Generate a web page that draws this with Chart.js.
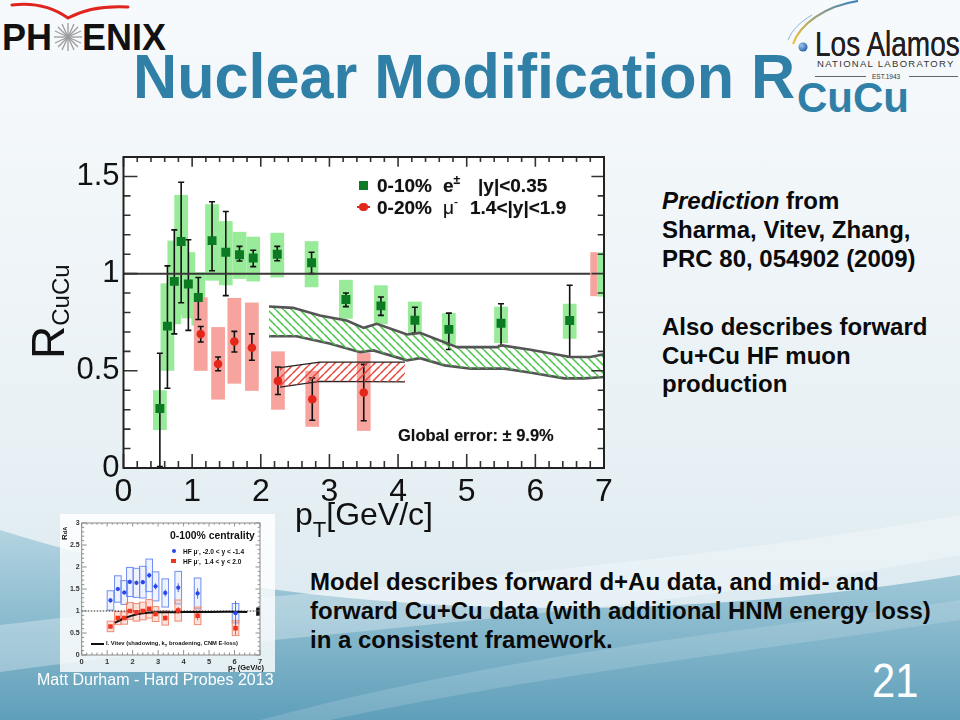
<!DOCTYPE html>
<html>
<head>
<meta charset="utf-8">
<script src="https://cdn.jsdelivr.net/npm/chart.js@4.4.1/dist/chart.umd.min.js"></script>
<style>
  html, body { margin: 0; padding: 0; }
  body { width: 960px; height: 720px; position: relative; overflow: hidden;
         font-family: "Liberation Sans", Arial, Helvetica, sans-serif; }
  .abs { position: absolute; white-space: nowrap; line-height: 1; }
  #bg { position: absolute; left: 0; top: 0; }
  #main { position: absolute; left: 60px; top: 150px; }
  #inset { position: absolute; left: 60px; top: 514px; background: rgba(255,255,255,0.8); }
  .title { color: #2f7fa6; font-weight: bold; }
  .txt { font-weight: bold; font-size: 24px; color: #0a0a0a; line-height: 28.7px; }
  .leg { font-weight: bold; font-size: 19px; color: #111; text-shadow: 0 0 1px #999; }
  .ins { font-weight: bold; color: #111; }
</style>
</head>
<body>
<svg id="bg" width="960" height="720" viewBox="0 0 960 720">
  <defs>
    <linearGradient id="sky" x1="0" y1="0" x2="0" y2="1">
      <stop offset="0" stop-color="#f7fafc"/>
      <stop offset="0.6" stop-color="#e9f1f5"/>
      <stop offset="1" stop-color="#d5e6ee"/>
    </linearGradient>
    <linearGradient id="sea" x1="0" y1="0" x2="0" y2="1">
      <stop offset="0" stop-color="#b3d4e1"/>
      <stop offset="1" stop-color="#5f9fba"/>
    </linearGradient>
    <linearGradient id="gold" x1="0" y1="1" x2="1" y2="0">
      <stop offset="0" stop-color="#f2c230"/>
      <stop offset="1" stop-color="#3d7fc0"/>
    </linearGradient>
    <radialGradient id="ball" cx="0.35" cy="0.35" r="0.7">
      <stop offset="0" stop-color="#9fc4ee"/>
      <stop offset="1" stop-color="#1f5fa8"/>
    </radialGradient>
  </defs>
  <rect width="960" height="720" fill="url(#sky)"/>
  <path d="M0,530 C220,600 560,640 960,575 L960,720 L0,720 Z" fill="url(#sea)"/>
  <path d="M0,625 C280,590 620,575 960,515 L960,555 C640,615 300,630 0,672 Z" fill="#ffffff" opacity="0.3"/>
  <path d="M260,720 C520,650 760,630 960,600 L960,620 C760,650 540,675 330,720 Z" fill="#ffffff" opacity="0.15"/>
  <!-- PHENIX swoosh and star -->
  <path d="M12,5 Q44,1 68,18 Q92,5 128,7" fill="none" stroke="#e0241f" stroke-width="3" stroke-linecap="round"/>
  <g stroke="#9a9a9a" stroke-width="1.3">
    <line x1="54" y1="37" x2="82" y2="37"/><line x1="68" y1="23" x2="68" y2="51"/>
    <line x1="58" y1="27" x2="78" y2="47"/><line x1="58" y1="47" x2="78" y2="27"/>
    <line x1="55" y1="31" x2="81" y2="43"/><line x1="55" y1="43" x2="81" y2="31"/>
    <line x1="62" y1="24" x2="74" y2="50"/><line x1="62" y1="50" x2="74" y2="24"/>
  </g>
  <!-- Los Alamos orbit -->
  <path d="M793,44 C800,24 825,6 858,1" fill="none" stroke="url(#gold)" stroke-width="2.2"/>
  <path d="M788,40 C792,30 800,22 812,15" fill="none" stroke="#8fb4d8" stroke-width="1"/>
  <circle cx="803" cy="47" r="4.5" fill="url(#ball)"/>
  <line x1="815" y1="76.5" x2="866" y2="76.5" stroke="#666" stroke-width="1"/>
  <line x1="909" y1="76.5" x2="958" y2="76.5" stroke="#666" stroke-width="1"/>
</svg>

<!-- logos -->
<div class="abs" style="left:2px;top:19.5px;font-size:36px;font-weight:bold;color:#111;">PH</div>
<div class="abs" style="left:82px;top:19.5px;font-size:36px;font-weight:bold;color:#111;">ENIX</div>
<div class="abs" style="left:815px;top:25.5px;font-size:35px;color:#231f20;transform:scaleX(0.8);transform-origin:left top;text-shadow:0 0 0.6px #231f20;">Los Alamos</div>
<div class="abs" style="left:817px;top:59px;font-size:9.5px;letter-spacing:1.3px;color:#333;">NATIONAL LABORATORY</div>
<div class="abs" style="left:872px;top:73.5px;font-size:6.5px;color:#333;">EST.1943</div>

<!-- title -->
<div class="abs title" style="left:133px;top:45px;font-size:63px;transform:scaleX(0.97);transform-origin:left top;">Nuclear Modification R</div>
<div class="abs title" style="left:797px;top:76.5px;font-size:42px;">CuCu</div>

<canvas id="main" width="560" height="360"></canvas>
<canvas id="inset" width="215" height="158"></canvas>

<!-- main chart axis titles -->
<div class="abs" style="left:25px;top:359px;transform:rotate(-90deg);transform-origin:left top;font-size:46px;color:#111;">R<span style="font-size:24px;position:relative;top:5px;">CuCu</span></div>
<div class="abs" style="left:295px;top:498px;font-size:32px;color:#111;">p<span style="font-size:22px;position:relative;top:12px;">T</span>[GeV/c]</div>

<!-- main chart legend -->
<div class="abs" style="left:359px;top:180.5px;width:9px;height:9px;background:#0b7a22;"></div>
<div class="abs leg" style="left:377px;top:176px;">0-10%</div>
<div class="abs leg" style="left:443px;top:176px;">e<span style="font-size:12px;position:relative;top:-8px;">±</span></div>
<div class="abs leg" style="left:478px;top:176px;">|y|&lt;0.35</div>
<div class="abs" style="left:357px;top:206px;width:13px;height:1.5px;background:#e3261b;"></div>
<div class="abs" style="left:359px;top:202.5px;width:8.5px;height:8.5px;border-radius:50%;background:#e3261b;"></div>
<div class="abs leg" style="left:377px;top:198px;">0-20%</div>
<div class="abs leg" style="left:443px;top:198px;font-weight:normal;">μ<span style="font-size:12px;position:relative;top:-8px;">-</span></div>
<div class="abs leg" style="left:470px;top:198px;">1.4&lt;|y|&lt;1.9</div>
<div class="abs leg" style="left:398px;top:427px;font-size:16.5px;">Global error: ± 9.9%</div>

<!-- inset texts -->
<div class="abs ins" style="left:170px;top:531px;font-size:10.4px;">0-100% centrality</div>
<div class="abs" style="left:171.5px;top:549px;width:4px;height:4px;border-radius:50%;background:#2a45e8;"></div>
<div class="abs ins" style="left:183px;top:547.5px;font-size:6.6px;">HF μ<sup style="font-size:4px;">-</sup>, -2.0 &lt; y &lt; -1.4</div>
<div class="abs" style="left:171px;top:558.5px;width:4.5px;height:4.5px;background:#f0321e;"></div>
<div class="abs ins" style="left:183px;top:557.5px;font-size:6.6px;">HF μ<sup style="font-size:4px;">-</sup>, &nbsp;1.4 &lt; y &lt; 2.0</div>
<div class="abs" style="left:91px;top:643px;width:13px;height:1.6px;background:#111;"></div>
<div class="abs ins" style="left:106px;top:640.5px;font-size:5.8px;">I. Vitev (shadowing, k<sub style="font-size:4px;">T</sub> broadening, CNM E-loss)</div>
<div class="abs ins" style="left:61px;top:540px;font-size:8px;transform:rotate(-90deg);transform-origin:left top;">R<span style="font-size:5.5px;">dA</span></div>
<div class="abs ins" style="left:228px;top:664px;font-size:7.5px;">p<span style="font-size:5px;position:relative;top:2px;">T</span> (GeV/c)</div>

<!-- right and bottom text -->
<div class="abs txt" style="left:662px;top:187.3px;"><i>Prediction</i> from<br>Sharma, Vitev, Zhang,<br>PRC 80, 054902 (2009)</div>
<div class="abs txt" style="left:662px;top:313px;">Also describes forward<br>Cu+Cu HF muon<br>production</div>
<div class="abs txt" style="left:310px;top:567.2px;line-height:29px;">Model describes forward d+Au data, and mid- and<br>forward Cu+Cu data (with additional HNM energy loss)<br>in a consistent framework.</div>
<div class="abs" style="left:37px;top:671.5px;font-size:16px;color:#fff;">Matt Durham - Hard Probes 2013</div>
<div class="abs" style="left:872px;top:655.5px;font-size:49px;color:#fff;transform:scaleX(0.85);transform-origin:left top;">21</div>

<script>
// ---- main plot: heavy-flavour R_CuCu (PHENIX) ----
// 0-10% central, e+- at |y|<0.35
const greenPt     = [0.53, 0.64, 0.74, 0.84, 0.945, 1.09, 1.29, 1.49, 1.69, 1.89, 2.24, 2.74, 3.24, 3.75, 4.245, 4.74, 5.5, 6.5];
const greenR      = [0.306, 0.73, 0.96, 1.165, 0.947, 0.877, 1.17, 1.11, 1.097, 1.08, 1.10, 1.056, 0.867, 0.834, 0.76, 0.713, 0.745, 0.759];
const greenStatLo = [0.007, 0.41, 0.69, 0.85, 0.708, 0.764, 1.015, 0.887, 1.065, 1.036, 1.066, 1.0, 0.83, 0.785, 0.694, 0.61, 0.63, 0.57];
const greenStatHi = [0.59, 1.04, 1.225, 1.47, 1.174, 0.98, 1.37, 1.32, 1.14, 1.12, 1.14, 1.11, 0.90, 0.88, 0.827, 0.797, 0.845, 0.94];
const greenSysLo  = [0.195, 0.50, 0.74, 0.785, 0.77, 0.733, 0.964, 0.94, 0.973, 0.96, 0.98, 0.93, 0.768, 0.74, 0.69, 0.634, 0.643, 0.665];
const greenSysHi  = [0.40, 0.95, 1.17, 1.405, 1.11, 1.007, 1.357, 1.27, 1.215, 1.19, 1.21, 1.167, 0.968, 0.94, 0.856, 0.797, 0.83, 0.845];

// 0-20% central, mu- at 1.4<|y|<1.9
const redPt     = [1.125, 1.378, 1.615, 1.87, 2.25, 2.75, 3.50];
const redR      = [0.689, 0.535, 0.651, 0.619, 0.448, 0.354, 0.388];
const redStatLo = [0.648, 0.50, 0.597, 0.554, 0.378, 0.246, 0.243];
const redStatHi = [0.728, 0.571, 0.703, 0.69, 0.52, 0.463, 0.533];
const redSysLo  = [0.50, 0.352, 0.434, 0.397, 0.30, 0.212, 0.191];
const redSysHi  = [0.878, 0.725, 0.875, 0.851, 0.60, 0.50, 0.591];

// global normalisation boxes at pT = 7 (red, green)
const globalPt = [6.85, 6.95];
const globalLo = [0.884, 0.882];
const globalHi = [1.11, 1.11];

// Sharma-Vitev-Zhang prediction bands
const bandMidUpX = [2.12, 2.47, 2.86, 3.25, 3.50, 3.69, 4.13, 4.32, 4.86, 5.44, 5.51, 5.93, 6.51, 6.80, 7.0];
const bandMidUpY = [0.831, 0.824, 0.785, 0.759, 0.721, 0.742, 0.687, 0.695, 0.622, 0.622, 0.631, 0.608, 0.571, 0.571, 0.585];
const bandMidLoX = [2.12, 2.52, 3.0, 3.45, 3.64, 4.13, 4.32, 4.68, 5.06, 5.55, 5.94, 6.42, 6.71, 7.0];
const bandMidLoY = [0.678, 0.678, 0.640, 0.596, 0.605, 0.554, 0.565, 0.528, 0.511, 0.511, 0.490, 0.461, 0.461, 0.468];
const bandFwdUpX = [2.28, 2.86, 4.10];
const bandFwdUpY = [0.516, 0.545, 0.545];
const bandFwdLoX = [2.28, 2.86, 4.10];
const bandFwdLoY = [0.416, 0.446, 0.443];

const unityX = [0, 6.8];
const unityY = [1, 1];

const mainXTicks = [0, 1, 2, 3, 4, 5, 6, 7];
const mainYTicks = ['0', '0.5', '1', '1.5'];

// ---- inset: d+Au HF muon R_dA ----
const insetPt      = [1.13, 1.42, 1.67, 1.89, 2.15, 2.40, 2.65, 2.90, 3.28, 3.79, 4.55, 6.04];
const insetBwdR    = [1.24, 1.50, 1.42, 1.66, 1.64, 1.655, 1.81, 1.56, 1.41, 1.53, 1.40, 0.95];
const insetBwdSys  = [0.22, 0.30, 0.27, 0.33, 0.33, 0.36, 0.37, 0.33, 0.32, 0.37, 0.35, 0.22];
const insetBwdStat = [0.05, 0.05, 0.05, 0.05, 0.05, 0.05, 0.06, 0.07, 0.08, 0.10, 0.12, 0.28];
const insetFwdR    = [0.65, 0.84, 0.84, 1.0, 0.97, 1.0, 1.05, 0.93, 0.84, 1.01, 0.89, 0.61];
const insetFwdSys  = [0.12, 0.15, 0.14, 0.19, 0.20, 0.20, 0.21, 0.17, 0.16, 0.24, 0.20, 0.17];
const insetFwdStat = [0.03, 0.03, 0.03, 0.03, 0.03, 0.04, 0.04, 0.05, 0.06, 0.08, 0.10, 0.15];
const vitevPt = [1.3, 1.5, 1.7, 1.9, 2.2, 2.5, 3.0, 4.0, 5.0, 6.5];
const vitevR  = [0.73, 0.79, 0.84, 0.88, 0.93, 0.955, 0.97, 0.975, 0.98, 0.98];
const insetGlobalPt = [6.93];
const insetGlobalLo = [0.89];
const insetGlobalHi = [1.08];
const insetXTicks = [0, 1, 2, 3, 4, 5, 6, 7];
const insetYTicks = ['0', '0.5', '1', '1.5', '2', '2.5', '3'];

const FONT = '"Liberation Sans", Arial, Helvetica, sans-serif';
Chart.defaults.font.family = FONT;

const pts = (xs, ys) => xs.map((x, i) => ({ x, y: ys[i] }));

function hatch(ctx, color, dir) {
  const s = 8;
  const c = document.createElement('canvas');
  c.width = s; c.height = s;
  const g = c.getContext('2d');
  g.strokeStyle = color;
  g.lineWidth = 1.5;
  g.beginPath();
  for (let k = -1; k <= 1; k++) {
    if (dir > 0) { g.moveTo(k * s, s); g.lineTo(k * s + s, 0); }
    else { g.moveTo(k * s, 0); g.lineTo(k * s + s, s); }
  }
  g.stroke();
  return ctx.createPattern(c, 'repeat');
}

// ROOT-like frame: sys boxes, stat bars, inside ticks on all four sides
function rootStyle(o) {
  return {
    id: 'rootStyle',
    beforeDraw(chart) {
      const { ctx, chartArea: a } = chart;
      ctx.save();
      ctx.fillStyle = o.plotBg;
      ctx.fillRect(a.left, a.top, a.width, a.height);
      ctx.restore();
    },
    beforeDatasetsDraw(chart) {
      const { ctx, chartArea: a, scales: { x, y } } = chart;
      ctx.save();
      ctx.beginPath();
      ctx.rect(a.left, a.top, a.width, a.height);
      ctx.clip();
      o.boxes.forEach(b => {
        const x0 = x.getPixelForValue(b.x - b.w / 2), x1 = x.getPixelForValue(b.x + b.w / 2);
        const y0 = y.getPixelForValue(b.hi), y1 = y.getPixelForValue(b.lo);
        if (b.fill) { ctx.fillStyle = b.fill; ctx.fillRect(x0, y0, x1 - x0, y1 - y0); }
        if (b.stroke) { ctx.strokeStyle = b.stroke; ctx.lineWidth = b.lw; ctx.strokeRect(x0, y0, x1 - x0, y1 - y0); }
      });
      o.bars.forEach(b => {
        const px = x.getPixelForValue(b.x), y0 = y.getPixelForValue(b.hi), y1 = y.getPixelForValue(b.lo);
        ctx.strokeStyle = b.color;
        ctx.lineWidth = b.lw;
        ctx.beginPath();
        ctx.moveTo(px, y0); ctx.lineTo(px, y1);
        if (b.cap) {
          ctx.moveTo(px - b.cap, y0); ctx.lineTo(px + b.cap, y0);
          ctx.moveTo(px - b.cap, y1); ctx.lineTo(px + b.cap, y1);
        }
        ctx.stroke();
      });
      ctx.restore();
    },
    afterDraw(chart) {
      const { ctx, chartArea: a, scales: { x, y } } = chart;
      const t = o.ticks;
      ctx.save();
      ctx.strokeStyle = t.color;
      ctx.lineWidth = t.lw;
      ctx.beginPath();
      const nx = Math.round((x.max - x.min) / t.xMinor);
      const kx = Math.round(t.xMajor / t.xMinor);
      for (let i = 0; i <= nx; i++) {
        const px = x.getPixelForValue(x.min + i * t.xMinor);
        const L = (i % kx === 0) ? t.major : t.minor;
        ctx.moveTo(px, a.bottom); ctx.lineTo(px, a.bottom - L);
        ctx.moveTo(px, a.top); ctx.lineTo(px, a.top + L * 0.7);
      }
      const ny = Math.round((y.max - y.min) / t.yMinor);
      const ky = Math.round(t.yMajor / t.yMinor);
      for (let i = 0; i <= ny; i++) {
        const py = y.getPixelForValue(y.min + i * t.yMinor);
        const L = (i % ky === 0) ? t.major : t.minor;
        ctx.moveTo(a.left, py); ctx.lineTo(a.left + L, py);
        ctx.moveTo(a.right, py); ctx.lineTo(a.right - L * 0.9, py);
      }
      ctx.stroke();
      ctx.strokeStyle = o.frameColor;
      ctx.lineWidth = o.frameWidth;
      ctx.strokeRect(a.left, a.top, a.width, a.height);
      ctx.restore();
    }
  };
}

// ---------- main chart ----------
const mainCtx = document.getElementById('main').getContext('2d');
const GREEN_BOX = '#98eb98', RED_BOX = '#f6a49d';
const BOX_W = 0.2;

const mainBoxes = []
  .concat(greenPt.map((p, i) => ({ x: p, w: BOX_W, lo: greenSysLo[i], hi: greenSysHi[i], fill: GREEN_BOX })))
  .concat(redPt.map((p, i) => ({ x: p, w: BOX_W, lo: redSysLo[i], hi: redSysHi[i], fill: RED_BOX })))
  .concat(globalPt.map((p, i) => ({ x: p, w: 0.1, lo: globalLo[i], hi: globalHi[i], fill: i === 0 ? RED_BOX : GREEN_BOX })));
const mainBars = []
  .concat(greenPt.map((p, i) => ({ x: p, lo: greenStatLo[i], hi: greenStatHi[i], color: '#111', lw: 1.6, cap: 3 })))
  .concat(redPt.map((p, i) => ({ x: p, lo: redStatLo[i], hi: redStatHi[i], color: '#111', lw: 1.6, cap: 3 })));

new Chart(mainCtx, {
  type: 'scatter',
  data: {
    datasets: [
      { label: '0-10% e', data: pts(greenPt, greenR), pointStyle: 'rect', pointRadius: 6.3,
        backgroundColor: '#0b7a22', borderColor: '#0b7a22', borderWidth: 0, order: 0 },
      { label: '0-20% mu', data: pts(redPt, redR), pointStyle: 'circle', pointRadius: 4.3,
        backgroundColor: '#e3261b', borderColor: '#e3261b', borderWidth: 0, order: 0 },
      { type: 'line', label: 'unity', data: pts(unityX, unityY), borderColor: '#383838', borderWidth: 2,
        pointRadius: 0, fill: false, order: 1 },
      { type: 'line', label: 'mid up', data: pts(bandMidUpX, bandMidUpY), borderColor: '#555', borderWidth: 2.6,
        pointRadius: 0, fill: '+1', backgroundColor: hatch(mainCtx, '#47c447', -1), order: 2 },
      { type: 'line', label: 'mid lo', data: pts(bandMidLoX, bandMidLoY), borderColor: '#555', borderWidth: 2.6,
        pointRadius: 0, fill: false, order: 2 },
      { type: 'line', label: 'fwd up', data: pts(bandFwdUpX, bandFwdUpY), borderColor: '#222', borderWidth: 1.3,
        pointRadius: 0, fill: '+1', backgroundColor: hatch(mainCtx, '#e8453b', 1), order: 2 },
      { type: 'line', label: 'fwd lo', data: pts(bandFwdLoX, bandFwdLoY), borderColor: '#222', borderWidth: 1.3,
        pointRadius: 0, fill: false, order: 2 }
    ]
  },
  options: {
    responsive: false,
    animation: false,
    layout: { padding: { top: 7, right: 16, left: 0, bottom: 0 } },
    plugins: { legend: { display: false }, tooltip: { enabled: false } },
    scales: {
      x: {
        type: 'linear', min: 0, max: 7,
        grid: { display: false, drawTicks: false }, border: { display: false },
        afterBuildTicks: s => { s.ticks = mainXTicks.map(v => ({ value: v })); },
        ticks: { padding: 5, maxRotation: 0, autoSkip: false, color: '#111', font: { size: 32 },
                 callback: v => String(v) },
        afterFit: s => { s.height = 42; s.paddingLeft = 0; s.paddingRight = 0; }
      },
      y: {
        type: 'linear', min: 0, max: 1.6,
        grid: { display: false, drawTicks: false }, border: { display: false },
        afterBuildTicks: s => { s.ticks = mainYTicks.map(v => ({ value: parseFloat(v) })); },
        ticks: { padding: 4, color: '#111', font: { size: 31 },
                 callback: (v, i) => mainYTicks[i] },
        afterFit: s => { s.width = 63.5; s.paddingTop = 0; s.paddingBottom = 0; }
      }
    }
  },
  plugins: [rootStyle({
    plotBg: '#ffffff', frameColor: '#222', frameWidth: 2,
    boxes: mainBoxes, bars: mainBars,
    ticks: { xMinor: 0.2, xMajor: 1, yMinor: 0.1, yMajor: 0.5, major: 14, minor: 7, color: '#333', lw: 1.6 }
  })]
});

// ---------- inset chart ----------
const insetCtx = document.getElementById('inset').getContext('2d');
const IN_W = 0.26;
const insetBoxes = []
  .concat(insetPt.map((p, i) => ({ x: p, w: IN_W, lo: insetBwdR[i] - insetBwdSys[i], hi: insetBwdR[i] + insetBwdSys[i],
                                   fill: 'rgba(150,175,245,0.15)', stroke: '#6f8ef2', lw: 1 })))
  .concat(insetPt.map((p, i) => ({ x: p, w: IN_W, lo: insetFwdR[i] - insetFwdSys[i], hi: insetFwdR[i] + insetFwdSys[i],
                                   fill: 'rgba(245,170,150,0.35)', stroke: '#ef8a72', lw: 1 })))
  .concat(insetGlobalPt.map((p, i) => ({ x: p, w: 0.16, lo: insetGlobalLo[i], hi: insetGlobalHi[i], fill: '#111' })));
const insetBars = []
  .concat(insetPt.map((p, i) => ({ x: p, lo: insetBwdR[i] - insetBwdStat[i], hi: insetBwdR[i] + insetBwdStat[i], color: '#3050e0', lw: 0.8 })))
  .concat(insetPt.map((p, i) => ({ x: p, lo: insetFwdR[i] - insetFwdStat[i], hi: insetFwdR[i] + insetFwdStat[i], color: '#e03a20', lw: 0.8 })));

new Chart(insetCtx, {
  type: 'scatter',
  data: {
    datasets: [
      { label: 'bwd', data: pts(insetPt, insetBwdR), pointStyle: 'circle', pointRadius: 2.1,
        backgroundColor: '#2a45e8', borderWidth: 0, order: 0 },
      { label: 'fwd', data: pts(insetPt, insetFwdR), pointStyle: 'rect', pointRadius: 3.2,
        backgroundColor: '#f0321e', borderWidth: 0, order: 0 },
      { type: 'line', label: 'vitev', data: pts(vitevPt, vitevR), borderColor: '#111', borderWidth: 2,
        pointRadius: 0, tension: 0.4, fill: false, order: 1 },
      { type: 'line', label: 'unity', data: pts([0, 7], [1, 1]), borderColor: '#222', borderWidth: 1,
        borderDash: [1.5, 1.5], pointRadius: 0, fill: false, order: 2 }
    ]
  },
  options: {
    responsive: false,
    animation: false,
    layout: { padding: { top: 9, right: 15, left: 0, bottom: 0 } },
    plugins: { legend: { display: false }, tooltip: { enabled: false } },
    scales: {
      x: {
        type: 'linear', min: 0, max: 7,
        grid: { display: false, drawTicks: false }, border: { display: false },
        afterBuildTicks: s => { s.ticks = insetXTicks.map(v => ({ value: v })); },
        ticks: { padding: 2, maxRotation: 0, autoSkip: false, color: '#333', font: { size: 7.5, weight: 'bold' },
                 callback: v => String(v) },
        afterFit: s => { s.height = 17; s.paddingLeft = 0; s.paddingRight = 0; }
      },
      y: {
        type: 'linear', min: 0, max: 3,
        grid: { display: false, drawTicks: false }, border: { display: false },
        afterBuildTicks: s => { s.ticks = insetYTicks.map(v => ({ value: parseFloat(v) })); },
        ticks: { padding: 2, color: '#333', font: { size: 7, weight: 'bold' },
                 callback: (v, i) => insetYTicks[i] },
        afterFit: s => { s.width = 21.7; s.paddingTop = 0; s.paddingBottom = 0; }
      }
    }
  },
  plugins: [rootStyle({
    plotBg: '#ffffff', frameColor: '#8a8a8a', frameWidth: 1,
    boxes: insetBoxes, bars: insetBars,
    ticks: { xMinor: 0.2, xMajor: 1, yMinor: 0.1, yMajor: 0.5, major: 5, minor: 2.5, color: '#777', lw: 0.8 }
  })]
});
</script>
</body>
</html>
